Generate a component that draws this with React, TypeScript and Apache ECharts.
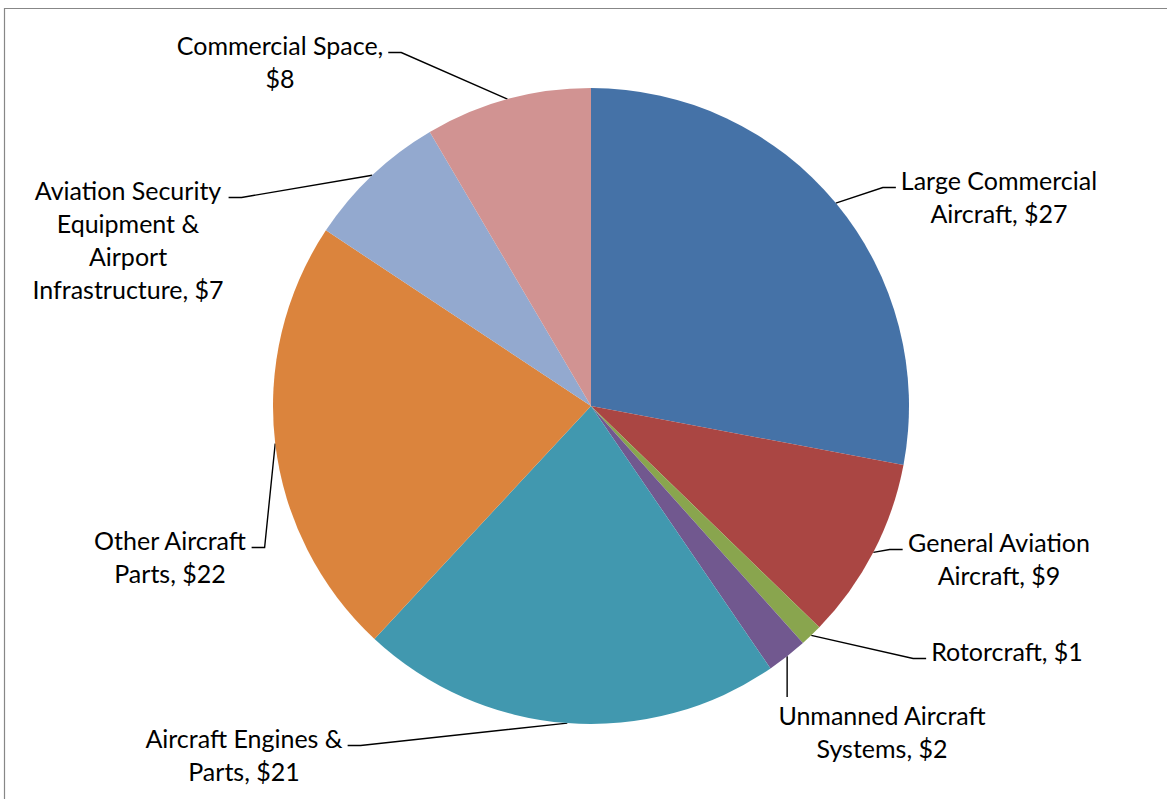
import React, { useEffect, useRef } from "react";
import * as echarts from "echarts";

// ---- data ----
const categories = [
  "Large Commercial\nAircraft",
  "General Aviation\nAircraft",
  "Rotorcraft",
  "Unmanned Aircraft\nSystems",
  "Aircraft Engines &\nParts",
  "Other Aircraft\nParts",
  "Aviation Security\nEquipment &\nAirport\nInfrastructure",
  "Commercial Space",
];
// (labels show rounded values)
const values = [27.1, 9.0, 1.1, 2.0, 20.8, 21.7, 7.0, 8.2];
const valueOnNewLine = [false, false, false, false, false, false, false, true];

// ---- styles / layout ----
const sliceColors = ["#4572A7", "#AA4643", "#89A54E", "#71588F", "#4198AF", "#DB843D", "#93A9CF", "#D19392"];
const labelCenterX = [999, 999, 1007, 882, 244, 170, 128, 280];
const labelTopY = [163.5, 525.5, 634.5, 698, 721.5, 523.5, 173.5, 28.5];
const labelAttach = ["left", "left", "left", "top", "right", "right", "right", "right"];

const PIE_CENTER = [591, 406];
const PIE_RADIUS = 318;

export default function App() {
  const ref = useRef<HTMLDivElement>(null);
  useEffect(() => {
    if (!ref.current) return;
    const chart = echarts.init(ref.current, null, { renderer: "svg" });
    chart.setOption({
      animation: false,
      backgroundColor: "#ffffff",
      graphic: [
        {
          type: "rect",
          shape: { x: 4.5, y: 8.5, width: 1300, height: 900 },
          style: { fill: "none", stroke: "#878787", lineWidth: 1.2 },
          silent: true,
        },
      ],
      series: [
        {
          type: "pie",
          center: PIE_CENTER,
          radius: PIE_RADIUS,
          startAngle: 90,
          clockwise: true,
          avoidLabelOverlap: false,
          data: categories.map((name, i) => ({
            name,
            value: values[i],
            itemStyle: { color: sliceColors[i] },
          })),
          itemStyle: { borderWidth: 0 },
          label: {
            show: true,
            position: "outside",
            formatter: (p: any) =>
              `${p.name},${valueOnNewLine[p.dataIndex] ? "\n" : " "}$${Math.round(p.value)}`,
            fontFamily: "Lato, 'Open Sans', sans-serif",
            fontSize: 25,
            lineHeight: 33,
            color: "#000000",
            align: "center",
          },
          labelLine: {
            show: true,
            length: 20,
            length2: 10,
            smooth: false,
            lineStyle: { color: "#000000", width: 1.4 },
          },
          labelLayout: (params: any) => {
            const i = params.dataIndex;
            const w = params.labelRect.width;
            const cx = labelCenterX[i];
            const top = labelTopY[i];
            let p0 = params.labelLinePoints && params.labelLinePoints[0];
            if (!p0) {
              const total = values.reduce((a, b) => a + b, 0);
              let before = 0;
              for (let k = 0; k < i; k++) before += values[k];
              const ang = ((before + values[i] / 2) / total) * Math.PI * 2;
              p0 = [PIE_CENTER[0] + PIE_RADIUS * Math.sin(ang), PIE_CENTER[1] - PIE_RADIUS * Math.cos(ang)];
            }
            let end: number[];
            let elbow: number[];
            const attachY = top + 24;
            if (labelAttach[i] === "left") {
              end = [cx - w / 2 - 5, attachY];
              elbow = [end[0] - 13, attachY];
            } else if (labelAttach[i] === "right") {
              end = [cx + w / 2 + 5, attachY];
              elbow = [end[0] + 13, attachY];
            } else {
              end = [p0[0], top - 1];
              elbow = [p0[0], top - 1];
            }
            return {
              x: cx,
              y: top,
              align: "center",
              verticalAlign: "top",
              labelLinePoints: [p0, elbow, end],
            };
          },
        },
      ],
    });
    return () => chart.dispose();
  }, []);
  return (
    <div
      ref={ref}
      style={{ position: "absolute", left: 0, top: 0, width: 1167, height: 799 }}
    />
  );
}
